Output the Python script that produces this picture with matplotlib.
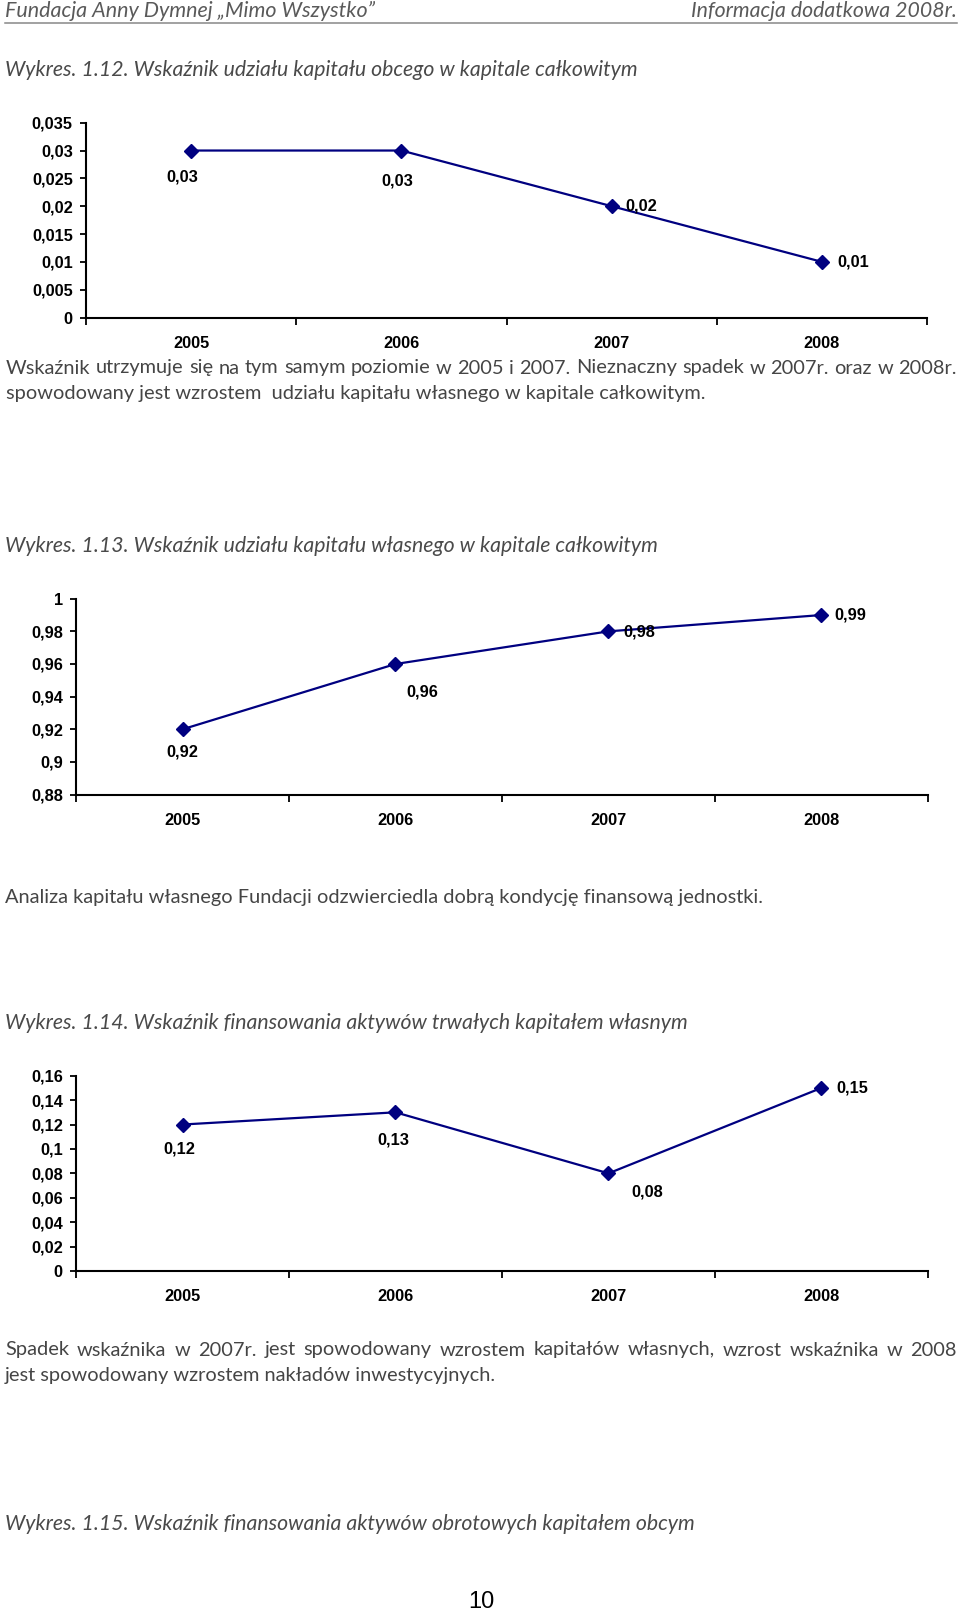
import matplotlib
matplotlib.use('Agg')
import matplotlib.pyplot as plt

# ---------------- data ----------------
years = ['2005', '2006', '2007', '2008']
udzial_kapitalu_obcego = [0.03, 0.03, 0.02, 0.01]
udzial_kapitalu_wlasnego = [0.92, 0.96, 0.98, 0.99]
finansowanie_aktywow_trwalych = [0.12, 0.13, 0.08, 0.15]

yticks_1 = [0, 0.005, 0.01, 0.015, 0.02, 0.025, 0.03, 0.035]
yticks_2 = [0.88, 0.90, 0.92, 0.94, 0.96, 0.98, 1.00]
yticks_3 = [0, 0.02, 0.04, 0.06, 0.08, 0.10, 0.12, 0.14, 0.16]

header_left = 'Fundacja Anny Dymnej „Mimo Wszystko”'
header_right = 'Informacja dodatkowa 2008r.'
title_1 = 'Wykres. 1.12. Wskaźnik udziału kapitału obcego w kapitale całkowitym'
title_2 = 'Wykres. 1.13. Wskaźnik udziału kapitału własnego w kapitale całkowitym'
title_3 = 'Wykres. 1.14. Wskaźnik finansowania aktywów trwałych kapitałem własnym'
title_4 = 'Wykres. 1.15. Wskaźnik finansowania aktywów obrotowych kapitałem obcym'
par_1 = ['Wskaźnik utrzymuje się na tym samym poziomie w 2005 i 2007. Nieznaczny spadek w 2007r. oraz w 2008r.',
         'spowodowany jest wzrostem  udziału kapitału własnego w kapitale całkowitym.']
par_2 = ['Analiza kapitału własnego Fundacji odzwierciedla dobrą kondycję finansową jednostki.']
par_3 = ['Spadek wskaźnika w 2007r. jest spowodowany wzrostem kapitałów własnych, wzrost wskaźnika w 2008',
         'jest spowodowany wzrostem nakładów inwestycyjnych.']
page_number = '10'

# ---------------- style ----------------
W, H = 960, 1613
NAVY = '#000080'
BODY_FONT = ['Lato', 'DejaVu Sans']
CHART_FONT = ['Liberation Sans', 'DejaVu Sans']
TEXT_COL = '#454545'
TITLE_COL = '#4a4a4a'
HEAD_COL = '#5a5a5a'
CHART_FS = 11.8

fig = plt.figure(figsize=(W / 100, H / 100), dpi=100)
fig.patch.set_facecolor('white')
renderer = fig.canvas.get_renderer()


def fx(x):
    return x / W


def fy(y):
    return 1 - y / H


def pl(v):
    s = f"{v:.3f}".rstrip('0').rstrip('.')
    return s.replace('.', ',')


def text_width(t):
    return t.get_window_extent(renderer).width


def fit_text(x, y, s, target_w, ha='left', fs0=13, **kw):
    t = fig.text(fx(x), fy(y), s, fontsize=fs0, ha=ha, va='center', **kw)
    for _ in range(2):
        w = text_width(t)
        t.set_fontsize(t.get_fontsize() * target_w / w)
    return t


def justify(x0, x1, y, s, fs, **kw):
    words = s.split()
    ts = [fig.text(fx(x0), fy(y), w_, fontsize=fs, ha='left', va='center', **kw) for w_ in words]
    widths = [text_width(t) for t in ts]
    gap = (x1 - x0 - sum(widths)) / (len(words) - 1)
    x = x0
    for t, w_ in zip(ts, widths):
        t.set_x(fx(x))
        x += w_ + gap
    return ts


body_kw = dict(family=BODY_FONT, weight='normal', color=TEXT_COL)
title_kw = dict(family=BODY_FONT, weight='normal', style='italic', color=TITLE_COL)
head_kw = dict(family=BODY_FONT, weight='normal', style='italic', color=HEAD_COL)

# header
fit_text(5, 11, header_left, 370, **head_kw)
fit_text(957, 11, header_right, 266, ha='right', **head_kw)
fig.add_artist(plt.Line2D([fx(5), fx(957)], [fy(22.5), fy(22.5)], color='#888888', lw=1.1))

# titles
fit_text(5, 70, title_1, 633, **title_kw)
fit_text(5, 546, title_2, 654, **title_kw)
fit_text(5, 1023, title_3, 682, **title_kw)
fit_text(5, 1524, title_4, 690, **title_kw)

# paragraphs
t = fit_text(6, 393, par_1[1], 699, **body_kw)
justify(6, 957, 368, par_1[0], t.get_fontsize(), **body_kw)
fit_text(5, 898, par_2[0], 756, **body_kw)
t = fit_text(5, 1375, par_3[1], 490, **body_kw)
justify(5, 957, 1350, par_3[0], t.get_fontsize(), **body_kw)

fig.text(fx(481), fy(1602), page_number, fontsize=17, ha='center', va='center',
         family=CHART_FONT, color='black')


# ---------------- charts ----------------
def chart(left, right, top, bottom, values, yticks, offsets):
    ax = fig.add_axes([fx(left), fy(bottom), (right - left) / W, (bottom - top) / H])
    xs = [i + 0.5 for i in range(len(values))]
    ax.plot(xs, values, color=NAVY, lw=1.6, marker='D', ms=7.5, mfc=NAVY, mec=NAVY,
            clip_on=False, zorder=3)
    ax.set_xlim(0, len(values))
    ax.set_ylim(yticks[0], yticks[-1])
    ax.set_yticks(yticks)
    ax.set_yticklabels([pl(v) for v in yticks])
    ax.set_xticks(range(len(values) + 1))
    ax.set_xticklabels([])
    ax.set_xticks(xs, minor=True)
    ax.set_xticklabels(years, minor=True)
    ax.tick_params(axis='x', which='major', length=5, width=1.3, direction='out', color='black')
    ax.tick_params(axis='x', which='minor', length=0, pad=13)
    ax.tick_params(axis='y', which='major', length=4.5, width=1.3, pad=5, color='black')
    for lab in ax.get_xticklabels(minor=True) + ax.get_yticklabels():
        lab.set_family(CHART_FONT)
        lab.set_fontweight('bold')
        lab.set_fontsize(CHART_FS)
    for s in ['top', 'right']:
        ax.spines[s].set_visible(False)
    for s in ['left', 'bottom']:
        ax.spines[s].set_linewidth(1.5)
        ax.spines[s].set_color('black')
    ax.set_facecolor('none')
    for xv, v, (dx, dy, ha) in zip(xs, values, offsets):
        ax.annotate(pl(v), xy=(xv, v), xytext=(dx, -dy), textcoords='offset pixels',
                    ha=ha, va='center', fontsize=CHART_FS, fontweight='bold',
                    family=CHART_FONT, color='black', annotation_clip=False)
    return ax


chart(86, 927, 122.7, 317.5, udzial_kapitalu_obcego, yticks_1,
      [(-9, 26, 'center'), (-4, 30, 'center'), (14, 0, 'left'), (15, 0, 'left')])
chart(76, 928, 598.7, 794.6, udzial_kapitalu_wlasnego, yticks_2,
      [(0, 23, 'center'), (27, 28.5, 'center'), (15, 1, 'left'), (13, 0, 'left')])
chart(76, 928, 1075.7, 1271, finansowanie_aktywow_trwalych, yticks_3,
      [(-3, 24.5, 'center'), (-2, 27.7, 'center'), (39, 18.6, 'center'), (15, 0, 'left')])

fig.savefig('out.png', dpi=100, facecolor='white')
